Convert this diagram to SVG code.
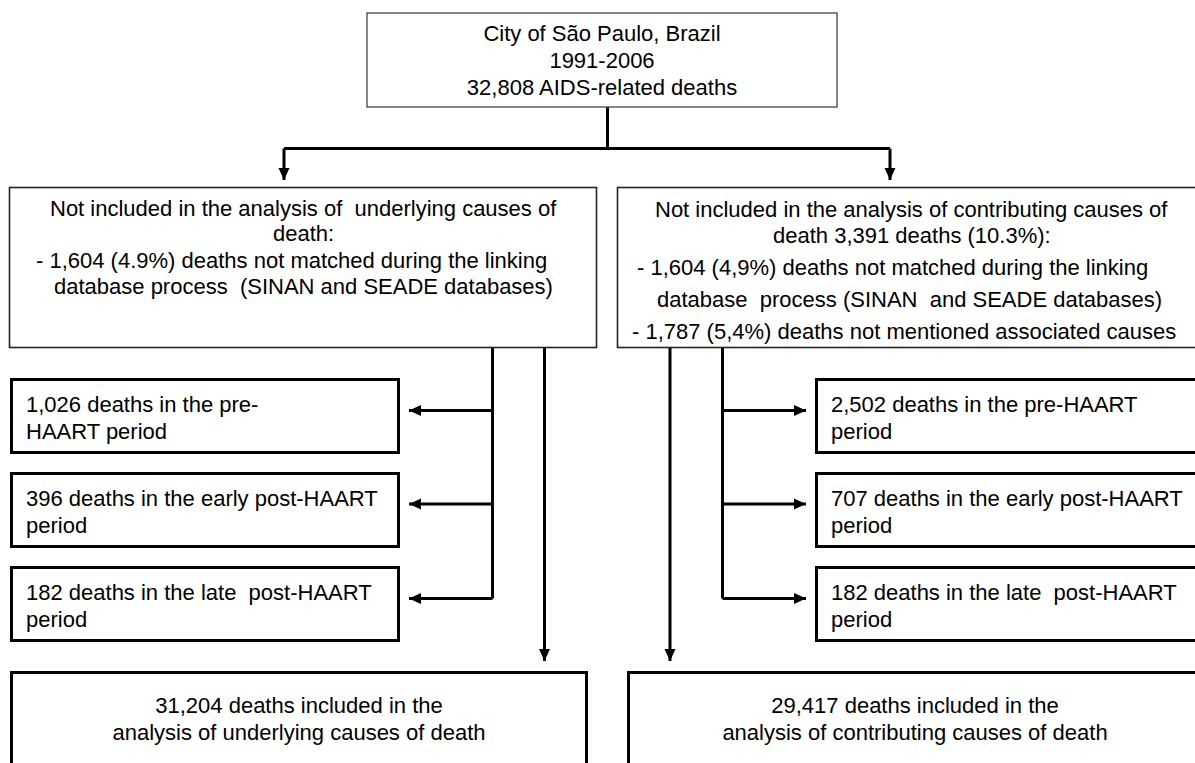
<svg xmlns="http://www.w3.org/2000/svg" width="1195" height="763" viewBox="0 0 1195 763">
<style>
text{font-family:"Liberation Sans",Arial,sans-serif;font-size:22px;fill:#000;white-space:pre}
.c{text-anchor:middle}
.thin{fill:#fff;stroke:#444;stroke-width:1.3}
.mid{fill:#fff;stroke:#222;stroke-width:1.6}
.thick{fill:#fff;stroke:#000;stroke-width:3}
.conn{fill:none;stroke:#000;stroke-width:3}
</style>
<defs>
<marker id="ah" markerUnits="userSpaceOnUse" markerWidth="13" markerHeight="12" refX="12" refY="6" orient="auto">
<path d="M0,0.5 L12,6 L0,11.5 z" fill="#000"/>
</marker>
</defs>
<rect width="1195" height="763" fill="#fff"/>
<g id="connectors">
<path class="conn" d="M607.5,107 V148.5 M284,148.5 H890"/>
<path class="conn" d="M284,148.5 V180" marker-end="url(#ah)"/>
<path class="conn" d="M890,148.5 V180" marker-end="url(#ah)"/>
<path class="conn" d="M492.5,347 V598.5"/>
<path class="conn" d="M492.5,410.5 H409" marker-end="url(#ah)"/>
<path class="conn" d="M492.5,504 H409" marker-end="url(#ah)"/>
<path class="conn" d="M492.5,598.5 H409" marker-end="url(#ah)"/>
<path class="conn" d="M544.5,347 V661" marker-end="url(#ah)"/>
<path class="conn" d="M722.5,348 V598.5"/>
<path class="conn" d="M722.5,410.5 H806" marker-end="url(#ah)"/>
<path class="conn" d="M722.5,504 H806" marker-end="url(#ah)"/>
<path class="conn" d="M722.5,598.5 H806" marker-end="url(#ah)"/>
<path class="conn" d="M670,348 V661" marker-end="url(#ah)"/>
</g>
<g id="top">
<rect class="thin" x="367" y="13" width="470" height="94"/>
<text class="c" x="602" y="41">City of São Paulo, Brazil</text>
<text class="c" x="602" y="68">1991-2006</text>
<text class="c" x="602" y="95">32,808 AIDS-related deaths</text>
</g>
<g id="left-excluded">
<rect class="mid" x="9.5" y="187.5" width="587" height="160"/>
<text x="50" y="216">Not included in the analysis of  underlying causes of</text>
<text x="273" y="241">death:</text>
<text x="36" y="268">- 1,604 (4.9%) deaths not matched during the linking</text>
<text x="54" y="294">database process  (SINAN and SEADE databases)</text>
</g>
<g id="right-excluded">
<rect class="mid" x="617.5" y="187.5" width="600" height="160"/>
<text x="655" y="217">Not included in the analysis of contributing causes of</text>
<text x="773" y="243">death 3,391 deaths (10.3%):</text>
<text x="637" y="275">- 1,604 (4,9%) deaths not matched during the linking</text>
<text x="657" y="307">database  process (SINAN  and SEADE databases)</text>
<text x="632" y="339">- 1,787 (5,4%) deaths not mentioned associated causes</text>
</g>
<g id="left-pre">
<rect class="thick" x="11.5" y="379.5" width="387" height="73"/>
<text x="26" y="412">1,026 deaths in the pre-</text>
<text x="26" y="439">HAART period</text>
</g>
<g id="left-early">
<rect class="thick" x="11.5" y="473.5" width="387" height="73"/>
<text x="26" y="506">396 deaths in the early post-HAART</text>
<text x="26" y="533">period</text>
</g>
<g id="left-late">
<rect class="thick" x="11.5" y="567.5" width="387" height="73"/>
<text x="26" y="600">182 deaths in the late  post-HAART</text>
<text x="26" y="627">period</text>
</g>
<g id="right-pre">
<rect class="thick" x="816.5" y="379.5" width="400" height="73"/>
<text x="831" y="412">2,502 deaths in the pre-HAART</text>
<text x="831" y="439">period</text>
</g>
<g id="right-early">
<rect class="thick" x="816.5" y="473.5" width="400" height="73"/>
<text x="831" y="506">707 deaths in the early post-HAART</text>
<text x="831" y="533">period</text>
</g>
<g id="right-late">
<rect class="thick" x="816.5" y="567.5" width="400" height="73"/>
<text x="831" y="600">182 deaths in the late  post-HAART</text>
<text x="831" y="627">period</text>
</g>
<g id="left-included">
<rect class="thick" x="11.5" y="672.5" width="575" height="120"/>
<text class="c" x="299" y="713">31,204 deaths included in the</text>
<text class="c" x="299" y="740">analysis of underlying causes of death</text>
</g>
<g id="right-included">
<rect class="thick" x="628.5" y="672.5" width="600" height="120"/>
<text class="c" x="915" y="713">29,417 deaths included in the</text>
<text class="c" x="915" y="740">analysis of contributing causes of death</text>
</g>
</svg>
